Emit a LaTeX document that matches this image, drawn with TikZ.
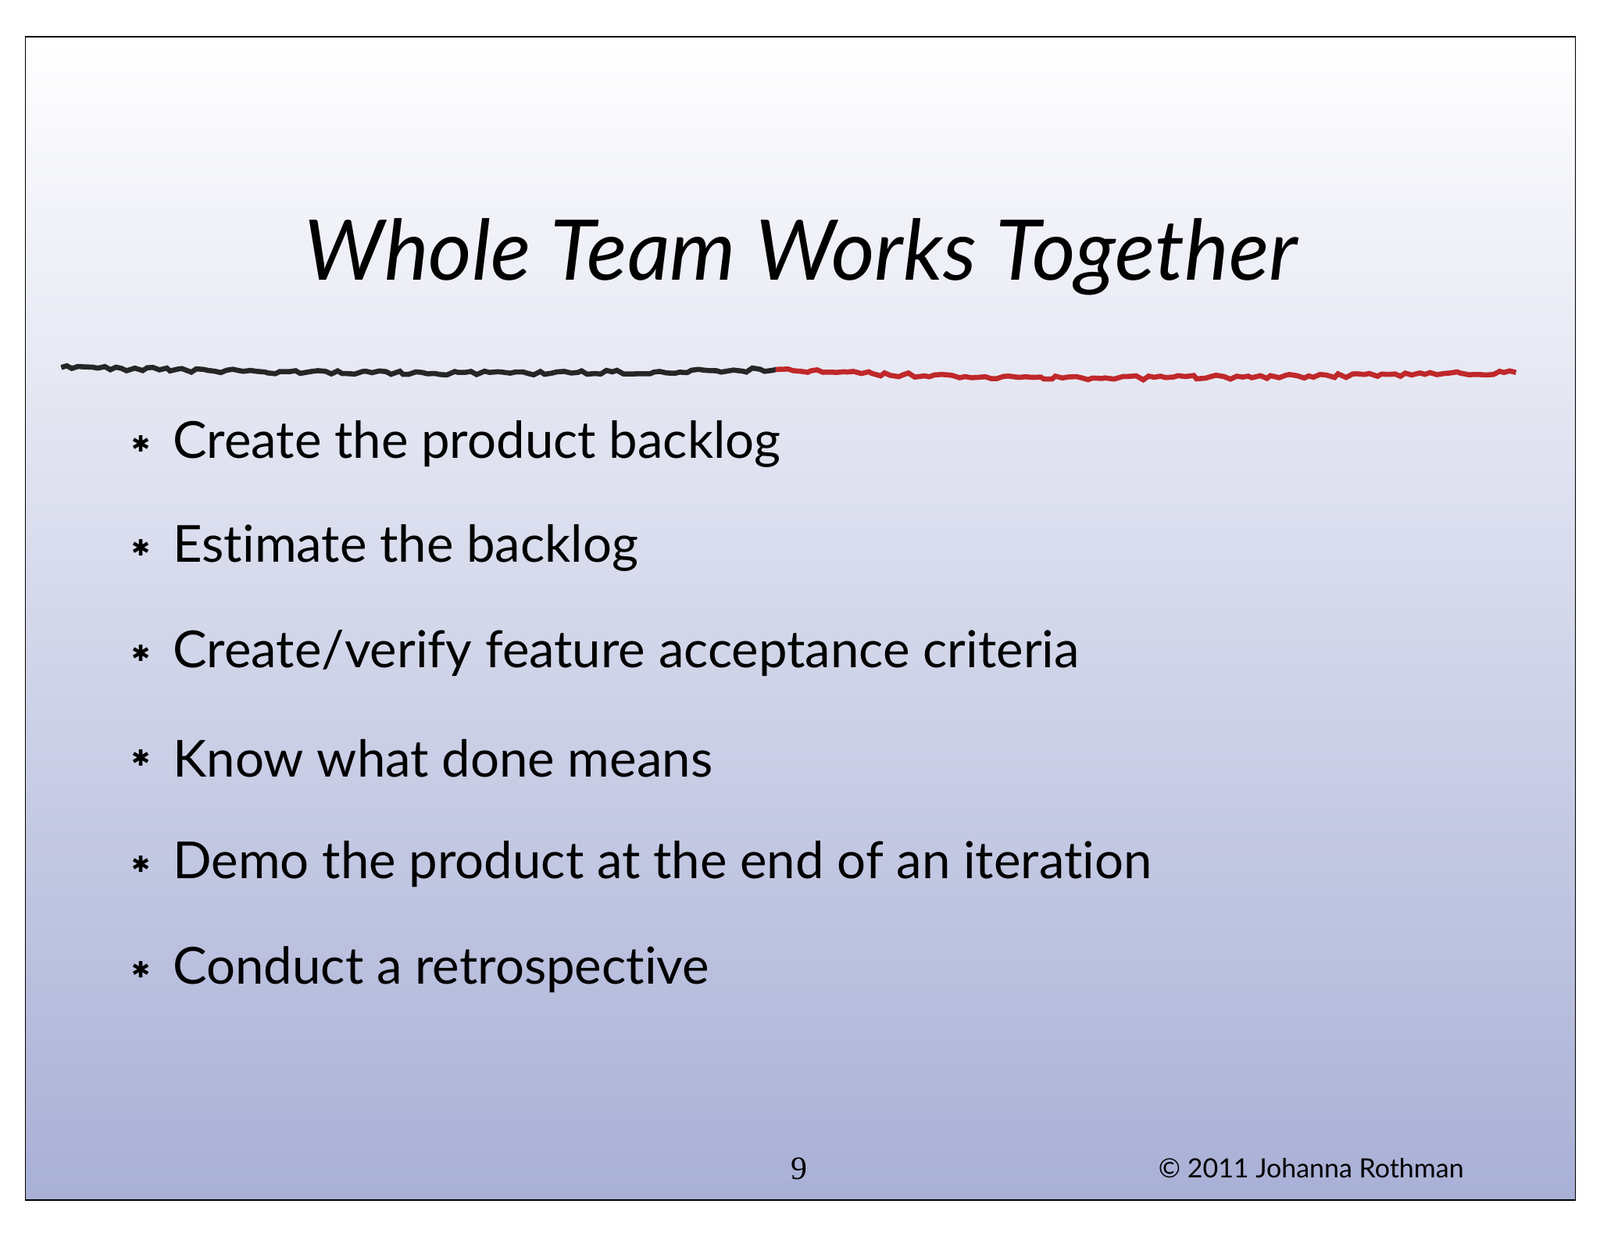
\documentclass[tikz,border=0pt]{standalone}
\usepackage{fontspec}
\setmainfont[Ligatures=NoCommon]{Lato}
\newfontfamily\symf{DejaVu Sans}
\newfontfamily\serf{Liberation Serif}
\usetikzlibrary{decorations.pathmorphing}
\definecolor{botc}{HTML}{A9B0D6}
\definecolor{redl}{HTML}{C0282A}
\tikzset{bul/.style={anchor=west,font=\fontsize{50}{52}\selectfont},
 star/.style={font=\symf\fontsize{22}{24}\selectfont},
 squig/.style={line width=5pt,decorate,decoration={random steps,segment length=6pt,amplitude=2pt}}}
\begin{document}
\begin{tikzpicture}[x=1pt,y=-1pt]
\useasboundingbox (0,0) rectangle (1568,1211);
\fill[white] (0,0) rectangle (1568,1211);
\shade[top color=white,bottom color=botc] (25,36) rectangle (1544,1176);
\draw[line width=1pt] (25,36) rectangle (1544,1176);
\node (title) at (785,252) {\fontsize{82}{86}\selectfont\itshape Whole Team Works Together};
\coordinate (l0) at (60,360);
\coordinate (l1) at (760,362);
\coordinate (l2) at (1485,365);
\draw[squig,black!85] (l0) .. controls (300,366) and (500,368) .. (l1);
\draw[squig,redl] (l1) .. controls (1000,375) and (1200,370) .. (l2);
\foreach \y/\t [count=\i] in {435/{Create the product backlog},537/{Estimate the backlog},640/{Create/verify feature acceptance criteria},743/{Know what done means},847/{Demo the product at the end of an iteration},950/{Conduct a retrospective}}{
 \node[star] (s\i) at (138,\y) {✱};
 \node[bul] (b\i) at (166,\y) {\t};
}
\node (pg) at (783,1145) {\fontsize{32}{34}\selectfont\serf 9};
\node[anchor=east] (cp) at (1438,1145) {\fontsize{26}{28}\selectfont © 2011 Johanna Rothman};
\end{tikzpicture}
\end{document}
